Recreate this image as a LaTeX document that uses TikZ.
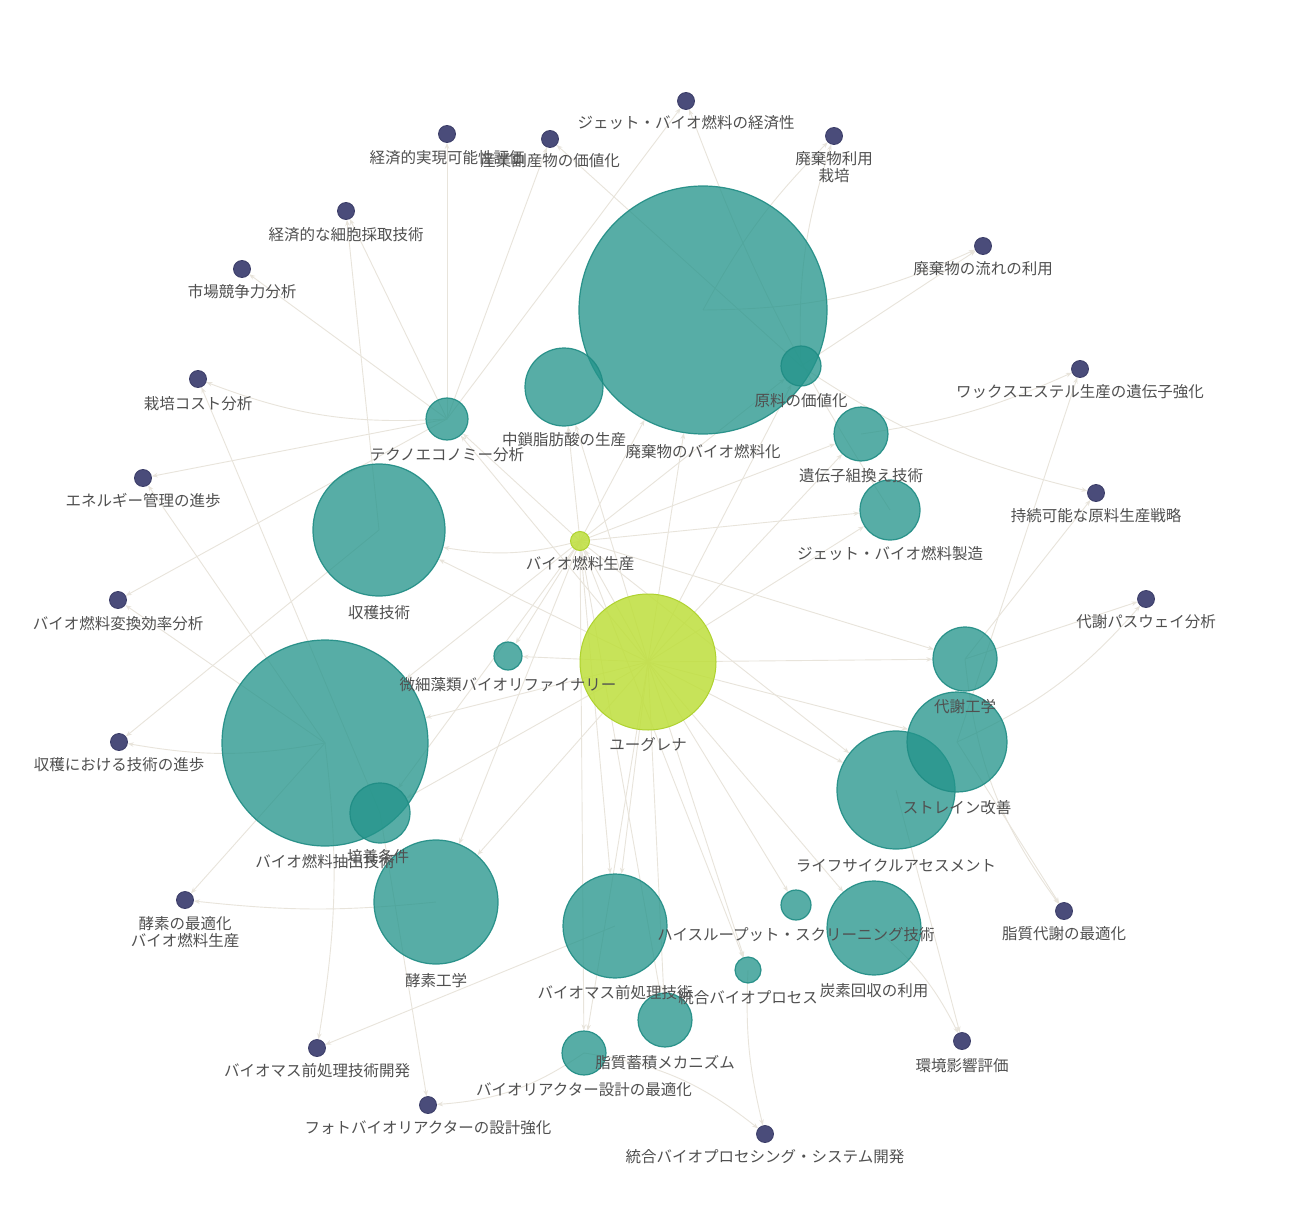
\documentclass[tikz,border=0pt]{standalone}
\usepackage{fontspec}
\newfontfamily\jp{Noto Sans CJK JP}
\usetikzlibrary{arrows.meta}
\pgfdeclarelayer{bg}
\pgfdeclarelayer{canvas}
\pgfsetlayers{canvas,bg,main}
\definecolor{tealc}{HTML}{23948B}
\definecolor{tealb}{HTML}{1F8C84}
\definecolor{yelc}{HTML}{BEDF3C}
\definecolor{yelb}{HTML}{AFD22F}
\definecolor{darkn}{HTML}{4A4C7A}
\definecolor{darkb}{HTML}{3B3D68}
\definecolor{edgec}{HTML}{E8E4DB}
\definecolor{labc}{HTML}{505050}
\tikzset{
 mid/.style={circle, inner sep=0pt, fill=tealc, fill opacity=0.76, draw=tealb, draw opacity=0.9, line width=1.2pt, minimum size=#1},
 hub/.style={circle, inner sep=0pt, fill=yelc, fill opacity=0.85, draw=yelb, line width=1pt, minimum size=#1},
 leaf/.style={circle, inner sep=0pt, fill=darkn, draw=darkb, line width=0.8pt, minimum size=17pt},
 lab/.style={font=\jp\fontsize{15.5}{17}\selectfont, text=labc, inner sep=0pt, align=center},
 edge/.style={draw=edgec, line width=0.9pt, -{Stealth[length=6pt,width=4.5pt]}},
}
\begin{document}
\begin{tikzpicture}[x=1pt,y=-1pt]
\begin{pgfonlayer}{canvas}
\fill[white] (0,0) rectangle (1292,1230);
\end{pgfonlayer}
\useasboundingbox (0,0) rectangle (1292,1230);
% hubs
\node[hub=136pt] (E) at (648,662) {};
\node[hub=19pt] (B) at (580,541) {};
% mid nodes
\node[mid=248pt] (W) at (703,310) {};
\node[mid=78pt] (M) at (564,387) {};
\node[mid=40pt] (F) at (801,366) {};
\node[mid=42pt] (T) at (447,419) {};
\node[mid=54pt] (G) at (861,434) {};
\node[mid=60pt] (J) at (890,510) {};
\node[mid=132pt] (H) at (379,530) {};
\node[mid=28pt] (R) at (508,656) {};
\node[mid=206pt] (X) at (325,743) {};
\node[mid=60pt] (C) at (380,813) {};
\node[mid=124pt] (Z) at (436,902) {};
\node[mid=104pt] (P) at (615,926) {};
\node[mid=26pt] (I) at (748,970) {};
\node[mid=54pt] (L) at (665,1020) {};
\node[mid=44pt] (D) at (584,1053) {};
\node[mid=30pt] (S) at (796,905) {};
\node[mid=94pt] (K) at (874,928) {};
\node[mid=118pt] (A) at (896,790) {};
\node[mid=100pt] (V) at (957,742) {};
\node[mid=64pt] (Mt) at (965,659) {};
% leaves
\node[leaf] (l1) at (686,101) {};
\node[leaf] (l2) at (447,134) {};
\node[leaf] (l3) at (550,139) {};
\node[leaf] (l4) at (834,136) {};
\node[leaf] (l5) at (346,211) {};
\node[leaf] (l6) at (242,269) {};
\node[leaf] (l7) at (983,246) {};
\node[leaf] (l8) at (1080,369) {};
\node[leaf] (l9) at (198,379) {};
\node[leaf] (l10) at (143,478) {};
\node[leaf] (l11) at (1096,493) {};
\node[leaf] (l12) at (118,600) {};
\node[leaf] (l13) at (1146,599) {};
\node[leaf] (l14) at (119,742) {};
\node[leaf] (l15) at (185,900) {};
\node[leaf] (l16) at (1064,911) {};
\node[leaf] (l17) at (962,1041) {};
\node[leaf] (l18) at (317,1048) {};
\node[leaf] (l19) at (428,1105) {};
\node[leaf] (l20) at (765,1134) {};
% edges
\begin{pgfonlayer}{bg}
\foreach \t in {B,W,M,F,T,G,J,H,R,X,C,Z,P,I,L,D,S,K,A,V,Mt}
  \draw[edge] (E.center) -- (\t);
\foreach \t in {T,M,W,F,G,J,R,X,C,Z,P,L,D,I,A,Mt}
  \draw[edge] (B.center) -- (\t);
\draw[edge] (B.center) to[bend left=12] (H);
\draw[edge] (T.center) -- (l1);
\draw[edge] (J.center) to[bend left=6] (l1);
\draw[edge] (T.center) -- (l2);
\draw[edge] (F.center) -- (l3);
\draw[edge] (T.center) -- (l3);
\draw[edge] (W.center) to[bend left=8] (l4);
\draw[edge] (F.center) to[bend left=10] (l4);
\draw[edge] (W.center) to[bend right=12] (l7);
\draw[edge] (F.center) -- (l7);
\draw[edge] (H.center) -- (l5);
\draw[edge] (T.center) -- (l5);
\draw[edge] (T.center) -- (l6);
\draw[edge] (G.center) to[bend right=8] (l8);
\draw[edge] (V.center) -- (l8);
\draw[edge] (T.center) to[bend left=12] (l9);
\draw[edge] (C.center) -- (l9);
\draw[edge] (T.center) -- (l10);
\draw[edge] (X.center) -- (l10);
\draw[edge] (F.center) to[bend right=10] (l11);
\draw[edge] (Mt.center) -- (l11);
\draw[edge] (T.center) -- (l12);
\draw[edge] (X.center) -- (l12);
\draw[edge] (Mt.center) -- (l13);
\draw[edge] (V.center) to[bend right=12] (l13);
\draw[edge] (H.center) -- (l14);
\draw[edge] (X.center) to[bend left=10] (l14);
\draw[edge] (Z.center) to[bend left=6] (l15);
\draw[edge] (X.center) -- (l15);
\draw[edge] (Mt.center) to[bend right=15] (l16);
\draw[edge] (V.center) -- (l16);
\draw[edge] (A.center) -- (l17);
\draw[edge] (K.center) to[bend left=12] (l17);
\draw[edge] (P.center) -- (l18);
\draw[edge] (X.center) to[bend left=8] (l18);
\draw[edge] (D.center) to[bend left=15] (l19);
\draw[edge] (C.center) -- (l19);
\draw[edge] (I.center) to[bend right=8] (l20);
\draw[edge] (D.center) to[bend left=15] (l20);
\end{pgfonlayer}
% labels
\node[lab] (lE) at (648,745) {ユーグレナ};
\node[lab] (lB) at (580,564) {バイオ燃料生産};
\node[lab] (lW) at (703,452) {廃棄物のバイオ燃料化};
\node[lab] (lM) at (564,440) {中鎖脂肪酸の生産};
\node[lab] (lF) at (801,401) {原料の価値化};
\node[lab] (lT) at (447,455) {テクノエコノミー分析};
\node[lab] (lG) at (861,476) {遺伝子組換え技術};
\node[lab] (lJ) at (890,554) {ジェット・バイオ燃料製造};
\node[lab] (lH) at (379,613) {収穫技術};
\node[lab] (lR) at (508,685) {微細藻類バイオリファイナリー};
\node[lab] (lX) at (325,862) {バイオ燃料抽出技術};
\node[lab] (lC) at (378,857) {培養条件};
\node[lab] (lZ) at (436,981) {酵素工学};
\node[lab] (lP) at (615,993) {バイオマス前処理技術};
\node[lab] (lI) at (748,998) {統合バイオプロセス};
\node[lab] (lL) at (665,1063) {脂質蓄積メカニズム};
\node[lab] (lD) at (584,1090) {バイオリアクター設計の最適化};
\node[lab] (lS) at (796,935) {ハイスループット・スクリーニング技術};
\node[lab] (lK) at (874,991) {炭素回収の利用};
\node[lab] (lA) at (896,866) {ライフサイクルアセスメント};
\node[lab] (lV) at (957,808) {ストレイン改善};
\node[lab] (lMt) at (965,707) {代謝工学};
\node[lab] (ll1) at (686,123) {ジェット・バイオ燃料の経済性};
\node[lab] (ll2) at (447,158) {経済的実現可能性評価};
\node[lab] (ll3) at (550,161) {産業副産物の価値化};
\node[lab] (ll4) at (834,167) {廃棄物利用\\栽培};
\node[lab] (ll5) at (346,235) {経済的な細胞採取技術};
\node[lab] (ll6) at (242,292) {市場競争力分析};
\node[lab] (ll7) at (983,269) {廃棄物の流れの利用};
\node[lab] (ll8) at (1080,392) {ワックスエステル生産の遺伝子強化};
\node[lab] (ll9) at (198,404) {栽培コスト分析};
\node[lab] (ll10) at (143,501) {エネルギー管理の進歩};
\node[lab] (ll11) at (1096,516) {持続可能な原料生産戦略};
\node[lab] (ll12) at (118,624) {バイオ燃料変換効率分析};
\node[lab] (ll13) at (1146,622) {代謝パスウェイ分析};
\node[lab] (ll14) at (119,765) {収穫における技術の進歩};
\node[lab] (ll15) at (185,932) {酵素の最適化\\バイオ燃料生産};
\node[lab] (ll16) at (1064,934) {脂質代謝の最適化};
\node[lab] (ll17) at (962,1066) {環境影響評価};
\node[lab] (ll18) at (317,1071) {バイオマス前処理技術開発};
\node[lab] (ll19) at (428,1128) {フォトバイオリアクターの設計強化};
\node[lab] (ll20) at (765,1157) {統合バイオプロセシング・システム開発};
\end{tikzpicture}
\end{document}
